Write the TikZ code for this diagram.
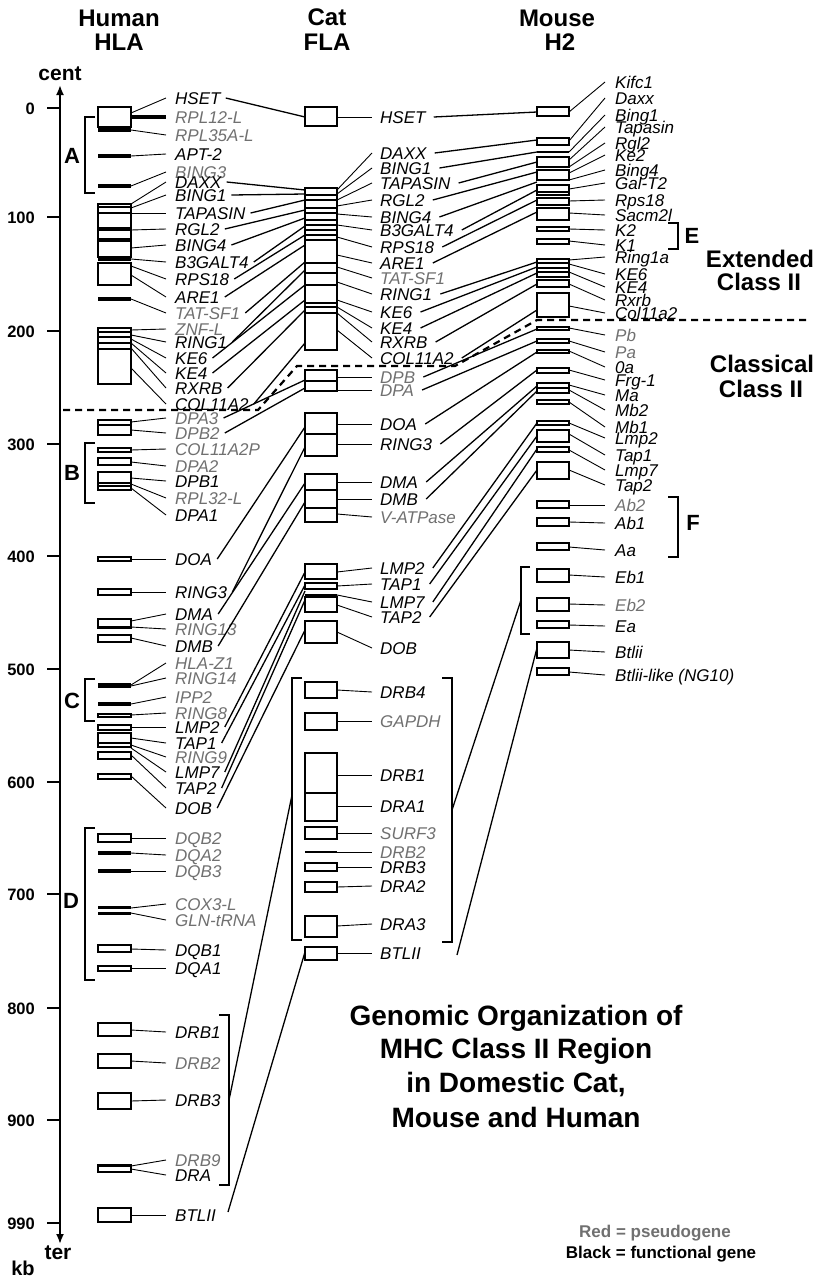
\documentclass[tikz,border=0pt]{standalone}
\usepackage{fontspec}
\setmainfont{Liberation Sans}
\usetikzlibrary{arrows.meta}
\definecolor{gp}{RGB}{112,112,112}
\colorlet{gk}{black}
\begin{document}
\begin{tikzpicture}[x=1pt,y=-1pt,
  gl/.style={font=\fontsize{17}{17}\selectfont\itshape, inner sep=0pt, anchor=west, text height=12pt, text depth=0pt},
  bx/.style={draw, line width=1.3pt},
  il/.style={line width=1.1pt},
  bar/.style={line width=4pt},
  mbar/.style={line width=2.8pt},
  tie/.style={line width=0.9pt},
  link/.style={line width=1.3pt},
  brk/.style={line width=2pt},
  hd/.style={font=\fontsize{24}{24}\selectfont\bfseries, anchor=base, inner sep=0pt},
  tk/.style={font=\fontsize{16.5}{16.5}\selectfont\bfseries, anchor=base east, inner sep=0pt},
  bl/.style={font=\fontsize{22}{22}\selectfont\bfseries, anchor=base, inner sep=0pt},
  ttl/.style={font=\fontsize{28}{28}\selectfont\bfseries, anchor=base, inner sep=0pt},
  lg/.style={font=\fontsize{17}{17}\selectfont\bfseries, anchor=base, inner sep=0pt},
]
\useasboundingbox (0,0) rectangle (822,1280);

% ---------- headings ----------
\node[hd] (tH1) at (119,26) {Human};
\node[hd] (tH2) at (119,50) {HLA};
\node[hd] (tC1) at (327,25) {Cat};
\node[hd] (tC2) at (327,50) {FLA};
\node[hd] (tM1) at (557,26) {Mouse};
\node[hd] (tM2) at (560,50) {H2};

% ---------- axis ----------
\draw[line width=1.9pt, {Latex[length=10pt,width=8pt]}-{Latex[length=10pt,width=8pt]}] (60,85) -- (60,1244);
\node[font=\fontsize{21}{21}\selectfont\bfseries, anchor=base, inner sep=0pt] (cent) at (60,80) {cent};
\node[font=\fontsize{21}{21}\selectfont\bfseries, anchor=base, inner sep=0pt] (ter) at (58,1259) {ter};
\node[font=\fontsize{20}{20}\selectfont\bfseries, anchor=base, inner sep=0pt] (kb) at (23,1275) {kb};
\foreach \v/\y in {0/108,100/217,200/331,300/444,400/556,500/669,600/782,700/894,800/1008,900/1120,990/1223}{
  \draw[line width=1.8pt] (47,\y) -- (60,\y);
  \node[tk] (tick\v) at (35,\y+6) {\v};
}

% ---------- human boxes ----------
\foreach \a/\b in {107/127,204/228,230/257,263/285,328/384,420/435,448/452,458/465,472/490,557/561,589/595,619/628,635/642,714/717,725/730,733/747,752/759,774/779,834/842,945/952,966/971,1023/1036,1054/1068,1093/1109,1165/1172,1208/1222}
  \draw[bx] (98,\a) rectangle (131,\b);
\foreach \a in {207,332,343,425,486}
  \draw[il] (98,\a) -- (131,\a);
\foreach \a in {130,156,186,240,259,299,704,853,871}
  \draw[bar] (98,\a) -- (131,\a);
\foreach \a in {213,337,349,483,627,743,1166}
  \draw[mbar] (98,\a) -- (131,\a);
\draw[line width=5.5pt] (98,685.5) -- (131,685.5);
\draw[line width=3.6pt] (98,907.5) -- (131,907.5);
\draw[line width=3.6pt] (98,913.5) -- (131,913.5);

% ---------- human labels ----------
\foreach \id/\t/\ly/\by/\c in {
HSET/HSET/98/113/k, RPLa/RPL12-L/117/117/p, RPLb/RPL35A-L/135/130/p, APT/APT-2/154/156/k,
BINGc/BING3/172/186/p, DAXX/DAXX/182/204/k, BINGa/BING1/195/208/k, TAPASIN/TAPASIN/213/213/k,
RGL/RGL2/229/230/k, BINGd/BING4/245/248/k, BGALT/B3GALT4/262/259/k, RPS/RPS18/279/266/k,
ARE/ARE1/297/275/k, TAT/TAT-SF1/313/299/p, ZNF/ZNF-L/329/330/p, RINGa/RING1/342/335/k,
KEf/KE6/358/339/k, KEd/KE4/373/343/k, RXRB/RXRB/388/348/k, COL/COL11A2/404/368/k,
DPAc/DPA3/418/422/p, DPBb/DPB2/433/430/p, COLP/COL11A2P/449/450/p, DPAb/DPA2/466/462/p,
DPBa/DPB1/481/478/k, RPLc/RPL32-L/498/484/p, DPAa/DPA1/515/488/k, DOA/DOA/559/559/k,
RINGc/RING3/592/592/k, DMA/DMA/614/621/k, RINGm/RING13/629/627/p, DMB/DMB/646/638/k,
HLAZ/HLA-Z1/663/685/p, RINGn/RING14/678/686/p, IPP/IPP2/697/704/p, RINGh/RING8/713/715/p,
LMPb/LMP2/727/727/k, TAPa/TAP1/743/738/k, RINGi/RING9/757/745/p, LMPg/LMP7/772/748/k,
TAPb/TAP2/788/755/k, DOB/DOB/808/776/k, DQBb/DQB2/838/838/p, DQAb/DQA2/855/853/p,
DQBc/DQB3/871/871/p, COX/COX3-L/904/908/p, GLN/GLN-tRNA/920/913/p, DQBa/DQB1/950/949/k,
DQAa/DQA1/968/968/k, DRBa/DRB1/1032/1030/k, DRBb/DRB2/1063/1061/p, DRBc/DRB3/1100/1101/k,
DRBi/DRB9/1160/1166/p, DRA/DRA/1175/1169/k, BTL/BTLII/1215/1215/k}{
  \node[gl, text=g\c] (h\id) at (175,\ly) {\t};
  \coordinate (hb\id) at (131,\by);
  \draw[tie] (hb\id) -- ([xshift=-9pt]h\id.west);
}
\draw[line width=3.5pt] (hbRPLa) -- ([xshift=-9pt]hRPLa.west);

% human brackets
\draw[brk] (95,117) -- (85,117) -- (85,193) -- (95,193);
\draw[brk] (95,443) -- (85,443) -- (85,503) -- (95,503);
\draw[brk] (95,679) -- (85,679) -- (85,721) -- (95,721);
\draw[brk] (95,828) -- (85,828) -- (85,980) -- (95,980);
\node[bl] (bA) at (72,163) {A};
\node[bl] (bB) at (72,480) {B};
\node[bl] (bC) at (72,708) {C};
\node[bl] (bD) at (71,908) {D};
\draw[brk] (219,1015) -- (229,1015) -- (229,1185) -- (219,1185);
\coordinate (hDRb) at (229,1100);

% ---------- cat boxes ----------
\foreach \a/\b in {107/126,188/350,370/391,413/456,474/522,564/579,583/589,597/612,621/643,682/698,713/730,753/821,827/839,863/871,882/892,916/937,947/960}
  \draw[bx] (305,\a) rectangle (337,\b);
\foreach \a in {195,200,208,213,220,230,235,240,263,273,303,307,313,381,434,490,508,793}
  \draw[il] (305,\a) -- (337,\a);
\foreach \a in {225,285,595,852}
  \draw[mbar] (305,\a) -- (337,\a);

% ---------- cat labels ----------
\foreach \id/\t/\ly/\by/\c in {
HSET/HSET/117/117/k, DAXX/DAXX/153/190/k, BINGa/BING1/168/194/k, TAPASIN/TAPASIN/183/200/k,
RGL/RGL2/200/206/k, BINGd/BING4/217/214/k, BGALT/B3GALT4/230/225/k, RPS/RPS18/247/237/k,
ARE/ARE1/263/255/k, TAT/TAT-SF1/278/267/p, RINGa/RING1/294/282/k, KEf/KE6/312/300/k,
KEd/KE4/328/307/k, RXRB/RXRB/342/313/k, COL/COL11A2/358/330/k, DPB/DPB/377/377/p,
DPA/DPA/390/390/p, DOA/DOA/424/424/k, RINGc/RING3/444/444/k, DMA/DMA/482/482/k,
DMB/DMB/499/499/k, VAT/V-ATPase/517/514/p, LMPb/LMP2/568/572/k, TAPa/TAP1/584/586/k,
LMPg/LMP7/602/595/k, TAPb/TAP2/617/605/k, DOB/DOB/648/632/k, DRBd/DRB4/692/690/k,
GAP/GAPDH/721/721/p, DRBa/DRB1/775/775/k, DRAa/DRA1/806/806/k, SURF/SURF3/833/833/p,
DRBb/DRB2/852/852/p, DRBc/DRB3/867/867/k, DRAb/DRA2/886/887/k, DRAc/DRA3/924/926/k,
BTL/BTLII/953/953/k}{
  \node[gl, text=g\c] (c\id) at (380,\ly) {\t};
  \coordinate (cb\id) at (337,\by);
  \draw[tie] (cb\id) -- ([xshift=-8pt]c\id.west);
}
\draw[brk] (302,678) -- (292,678) -- (292,940) -- (302,940);
\draw[brk] (442,678) -- (452,678) -- (452,942) -- (442,942);
\coordinate (cDRl) at (292,795);
\coordinate (cDRr) at (452,810);

% ---------- mouse boxes ----------
\foreach \a/\b in {107/116,138/145,157/167,170/180,185/195,198/205,208/220,227/231,239/244,259/277,280/287,293/317,327/330,339/343,350/353,368/373,383/393,400/404,421/425,430/442,447/452,462/479,501/508,518/526,543/550,569/582,598/611,621/628,642/658,668/675}
  \draw[bx] (537,\a) rectangle (569,\b);
\foreach \a in {272,388}
  \draw[il] (537,\a) -- (569,\a);
\foreach \a in {152,180,192,263,268}
  \draw[mbar] (537,\a) -- (569,\a);

% ---------- mouse labels ----------
\foreach \id/\t/\ly/\by/\c in {
Kifc/Kifc1/82/112/k, Daxx/Daxx/98/141/k, Binga/Bing1/115/152/k, Tap/Tapasin/127/160/k,
Rgl/Rgl2/143/167/k, Ke/Ke2/155/173/k, Bingd/Bing4/170/180/k, Gal/Gal-T2/183/189/k,
Rps/Rps18/200/201/k, Sacm/Sacm2l/215/213/k, Kb/K2/230/229/k, Ka/K1/245/241/k,
Ring/Ring1a/257/260/k, KEf/KE6/274/264/k, KEd/KE4/287/272/k, Rxrb/Rxrb/300/284/k,
Col/Col11a2/313/306/k, Pb/Pb/335/328/p, Pa/Pa/352/341/p, Oa/0a/367/351/k,
Frg/Frg-1/380/370/k, Ma/Ma/395/385/k, Mbb/Mb2/410/390/k, Mba/Mb1/427/402/k,
Lmpb/Lmp2/438/423/k, Tapa/Tap1/455/434/k, Lmpg/Lmp7/470/450/k, Tapb/Tap2/485/470/k,
Abb/Ab2/505/505/p, Aba/Ab1/523/522/k, Aa/Aa/550/547/k, Eba/Eb1/577/575/k,
Ebb/Eb2/605/604/p, Ea/Ea/626/625/k, Btl/Btlii/652/650/k}{
  \node[gl, text=g\c] (m\id) at (615,\ly) {\t};
  \coordinate (mb\id) at (569,\by);
  \draw[tie] (mb\id) -- ([xshift=-10pt]m\id.west);
}
\node[gl] (mBtll) at (615,675) {Btlii-like (NG10)};
\coordinate (mbBtll) at (569,672);
\draw[tie] (mbBtll) -- ([xshift=-10pt]mBtll.west);

\draw[brk] (668,223) -- (678,223) -- (678,249) -- (668,249);
\draw[brk] (668,497) -- (678,497) -- (678,557) -- (668,557);
\draw[brk] (530,567) -- (521,567) -- (521,634) -- (530,634);
\node[bl] (bE) at (692,243) {E};
\node[bl] (bF) at (693,530) {F};
\coordinate (mEb) at (521,600);

% ---------- human -> cat ----------
\foreach \id/\y in {HSET/117, DAXX/190, BINGa/194, TAPASIN/200, RGL/210, BINGd/218, BGALT/226, RPS/235, ARE/245, TAT/262, RINGa/270, KEf/285, KEd/300, RXRB/310, COL/343, DPAc/380, DPBb/388, DOA/427, RINGc/447, DMA/483, DMB/502, LMPb/572, TAPa/585, LMPg/591, TAPb/600, DOB/630}{
  \coordinate (hc\id) at (305,\y);
  \draw[link] ([xshift=5pt]h\id.east) -- (hc\id);
}
\coordinate (hBTLs) at (228,1212);
\coordinate (cBTLw) at (305,952);
\draw[link] (hBTLs) -- (cBTLw);
\draw[link] (hDRb) -- (cDRl);

% ---------- cat -> mouse ----------
\foreach \id/\y in {HSET/112, DAXX/140, BINGa/152, TAPASIN/162, RGL/172, BINGd/182, BGALT/190, RPS/200, ARE/212, RINGa/262, KEf/267, KEd/273, RXRB/284, COL/310, DPB/329, DPA/341, DOA/352, RINGc/370, DMA/386, DMB/391, LMPb/423, TAPa/436, LMPg/449, TAPb/470}{
  \coordinate (cm\id) at (537,\y);
  \draw[link] ([xshift=8pt]c\id.east) -- (cm\id);
}
\coordinate (cBTLs) at (457,955);
\coordinate (mBtlw) at (537,648);
\draw[link] (cBTLs) -- (mBtlw);
\draw[link] (cDRr) -- (mEb);

% ---------- class boundary ----------
\draw[line width=2.2pt, dash pattern=on 7pt off 5pt] (63,410) -- (258,410) -- (297,366) -- (455,366) -- (537,320) -- (810,320);

% ---------- side titles ----------
\node[hd] (ext1) at (760,267) {Extended};
\node[hd] (ext2) at (759,290) {Class II};
\node[hd] (cls1) at (762,372) {Classical};
\node[hd] (cls2) at (761,397) {Class II};

% ---------- main title ----------
\node[ttl] (T1) at (516,1025) {Genomic Organization of};
\node[ttl] (T2) at (516,1058) {MHC Class II Region};
\node[ttl] (T3) at (516,1092) {in Domestic Cat,};
\node[ttl] (T4) at (516,1127) {Mouse and Human};

% ---------- legend ----------
\node[lg, text=gp] (L1) at (655,1237) {Red = pseudogene};
\node[lg] (L2) at (661,1258) {Black = functional gene};
\end{tikzpicture}
\end{document}
